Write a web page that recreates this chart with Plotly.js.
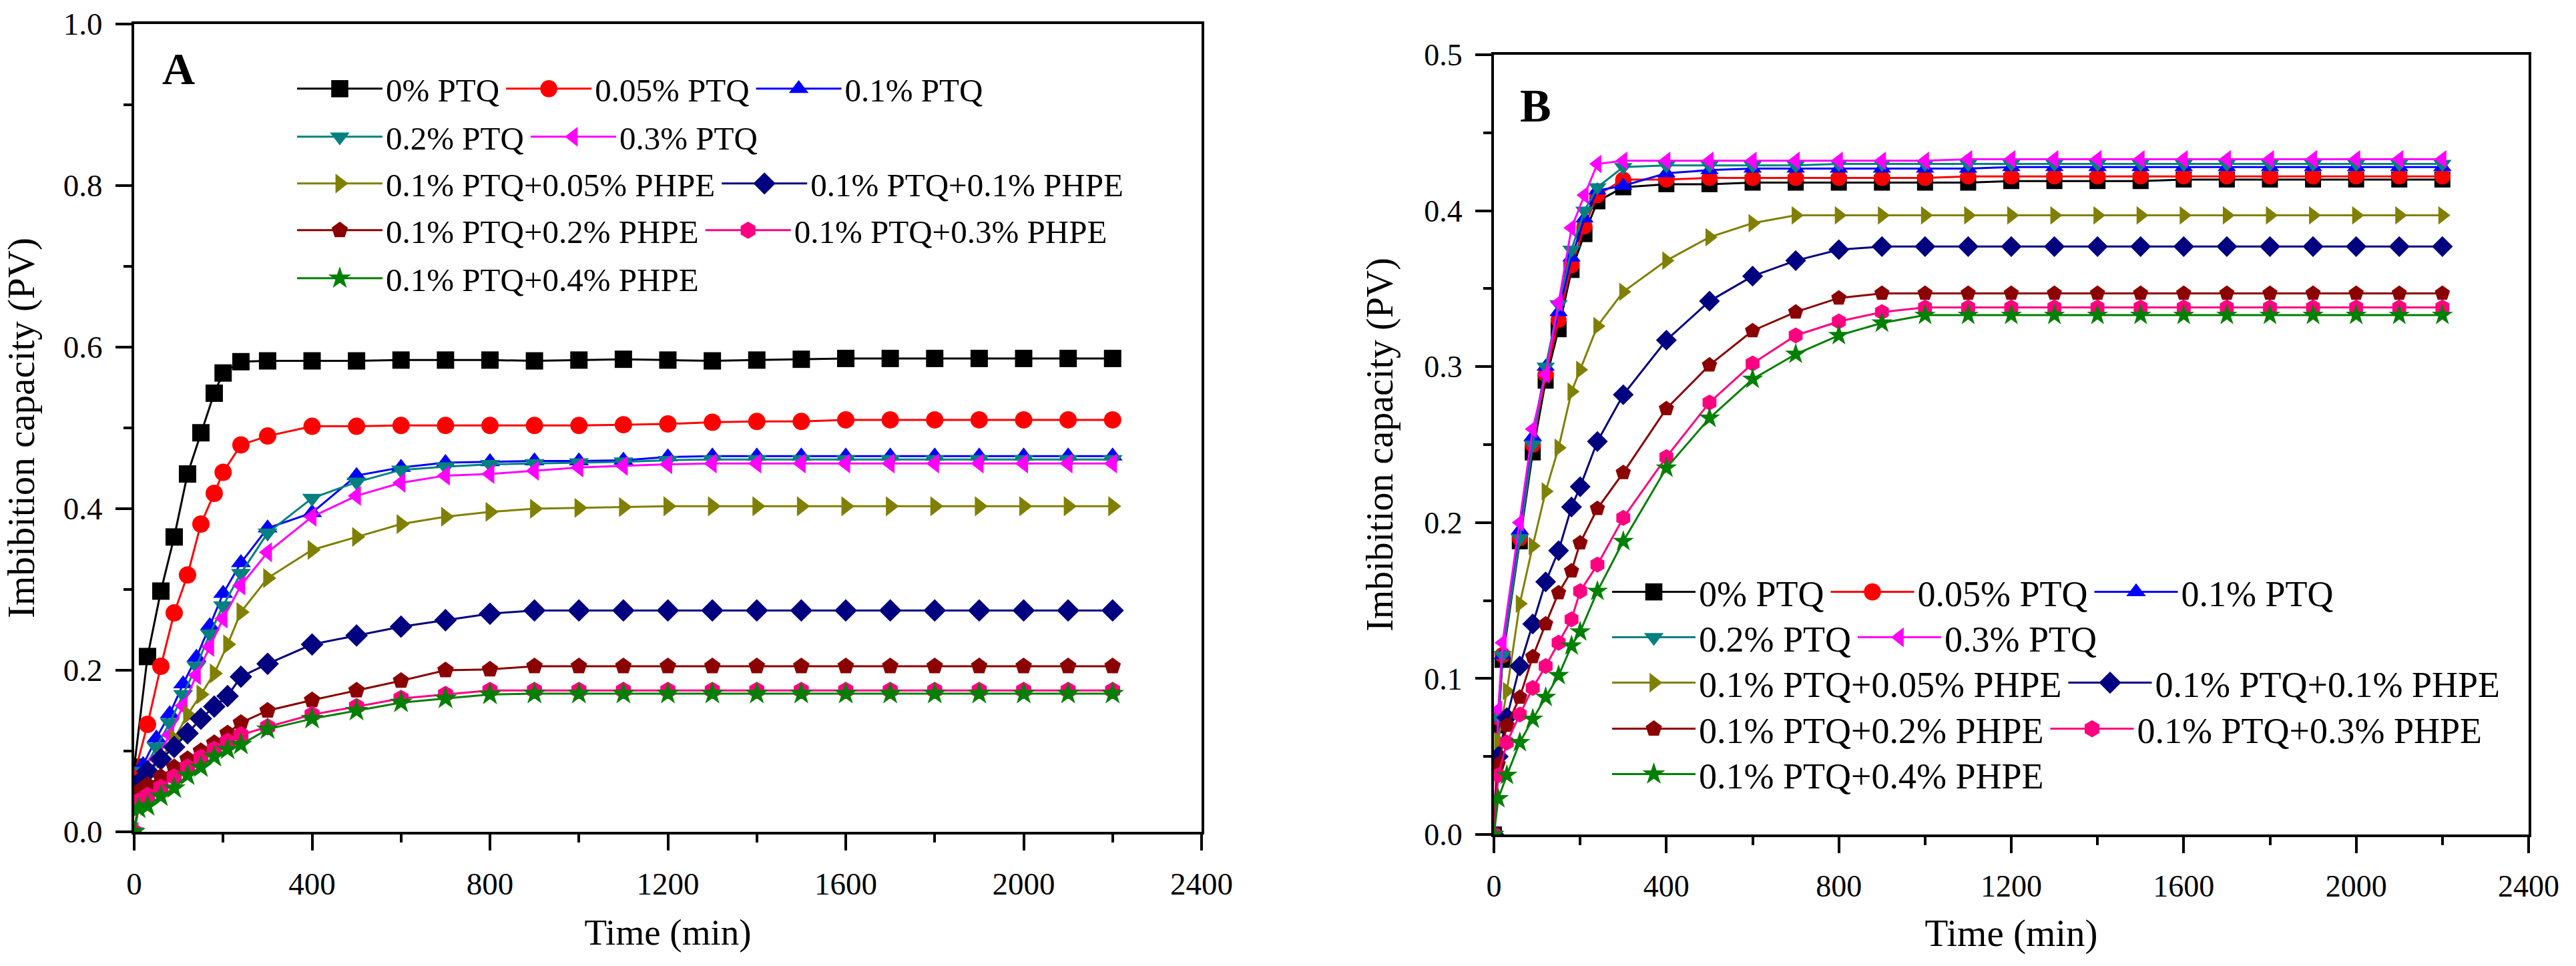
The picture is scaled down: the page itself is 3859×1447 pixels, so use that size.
<!DOCTYPE html>
<html>
<head>
<meta charset="utf-8">
<script src="https://cdn.plot.ly/plotly-3.0.1.min.js"></script>
<style>html,body{margin:0;padding:0;background:#fff;}#chart{width:3859px;height:1447px;}</style>
</head>
<body>
<div id="chart"></div>
<script>
// ---------- Series names ----------
const seriesNames = ['0% PTQ', '0.05% PTQ', '0.1% PTQ', '0.2% PTQ', '0.3% PTQ',
  '0.1% PTQ+0.05% PHPE', '0.1% PTQ+0.1% PHPE', '0.1% PTQ+0.2% PHPE',
  '0.1% PTQ+0.3% PHPE', '0.1% PTQ+0.4% PHPE'];

// ---------- Panel A times (min) ----------
const timeA_early = [0, 30, 60, 90, 120, 150, 180, 200, 240, 300, 400, 500, 600, 700, 800, 900, 1000, 1100, 1200, 1300, 1400, 1500, 1600, 1700, 1800, 1900, 2000, 2100, 2200];
const timeA_ptq = [0, 20, 50, 80, 110, 140, 170, 200, 240, 300, 400, 500, 600, 700, 800, 900, 1000, 1100, 1200, 1300, 1400, 1500, 1600, 1700, 1800, 1900, 2000, 2100, 2200];
const timeA_phpe = [0, 10, 30, 60, 90, 120, 150, 180, 210, 240, 300, 400, 500, 600, 700, 800, 900, 1000, 1100, 1200, 1300, 1400, 1500, 1600, 1700, 1800, 1900, 2000, 2100, 2200];

// ---------- Panel A values (PV) ----------
const A_ptq0 = [0.08, 0.217, 0.298, 0.365, 0.443, 0.494, 0.543, 0.568, 0.582, 0.583, 0.583, 0.583, 0.584, 0.584, 0.584, 0.583, 0.584, 0.585, 0.584, 0.583, 0.584, 0.585, 0.586, 0.586, 0.586, 0.586, 0.586, 0.586, 0.586];
const A_ptq005 = [0.07, 0.133, 0.205, 0.271, 0.318, 0.381, 0.419, 0.445, 0.479, 0.490, 0.502, 0.502, 0.503, 0.503, 0.503, 0.503, 0.503, 0.504, 0.505, 0.507, 0.508, 0.508, 0.510, 0.510, 0.510, 0.510, 0.510, 0.510, 0.510];
const A_ptq01 = [0.06, 0.083, 0.116, 0.146, 0.183, 0.216, 0.255, 0.295, 0.333, 0.376, 0.395, 0.441, 0.451, 0.457, 0.458, 0.459, 0.459, 0.460, 0.464, 0.465, 0.465, 0.465, 0.465, 0.465, 0.465, 0.465, 0.465, 0.465, 0.465];
const A_ptq02 = [0.0, 0.075, 0.105, 0.135, 0.170, 0.205, 0.245, 0.280, 0.320, 0.370, 0.413, 0.433, 0.448, 0.452, 0.455, 0.456, 0.457, 0.458, 0.460, 0.461, 0.461, 0.461, 0.461, 0.461, 0.461, 0.461, 0.461, 0.461, 0.461];
const A_ptq03 = [0.0, 0.060, 0.090, 0.120, 0.156, 0.194, 0.229, 0.264, 0.305, 0.346, 0.390, 0.416, 0.432, 0.441, 0.443, 0.447, 0.451, 0.453, 0.455, 0.456, 0.456, 0.456, 0.456, 0.456, 0.456, 0.456, 0.456, 0.456, 0.456];
const A_phpe005 = [0.03, 0.05, 0.07, 0.09, 0.115, 0.145, 0.170, 0.196, 0.232, 0.272, 0.314, 0.349, 0.365, 0.381, 0.390, 0.396, 0.400, 0.401, 0.402, 0.403, 0.403, 0.403, 0.403, 0.403, 0.403, 0.403, 0.403, 0.403, 0.403, 0.403];
const A_phpe01 = [0.05, 0.06, 0.075, 0.090, 0.105, 0.122, 0.140, 0.155, 0.168, 0.192, 0.208, 0.232, 0.243, 0.254, 0.262, 0.270, 0.274, 0.274, 0.274, 0.274, 0.274, 0.274, 0.274, 0.274, 0.274, 0.274, 0.274, 0.274, 0.274, 0.274];
const A_phpe02 = [0.045, 0.05, 0.058, 0.068, 0.080, 0.090, 0.100, 0.110, 0.122, 0.135, 0.150, 0.163, 0.175, 0.187, 0.200, 0.201, 0.205, 0.205, 0.205, 0.205, 0.205, 0.205, 0.205, 0.205, 0.205, 0.205, 0.205, 0.205, 0.205, 0.205];
const A_phpe03 = [0.0, 0.038, 0.045, 0.055, 0.068, 0.080, 0.092, 0.102, 0.112, 0.120, 0.130, 0.145, 0.155, 0.165, 0.170, 0.175, 0.175, 0.175, 0.175, 0.175, 0.175, 0.175, 0.175, 0.175, 0.175, 0.175, 0.175, 0.175, 0.175, 0.175];
const A_phpe04 = [0.0, 0.029, 0.032, 0.044, 0.054, 0.070, 0.080, 0.093, 0.102, 0.108, 0.127, 0.140, 0.150, 0.160, 0.165, 0.170, 0.171, 0.171, 0.171, 0.171, 0.171, 0.171, 0.171, 0.171, 0.171, 0.171, 0.171, 0.171, 0.171, 0.171];

// ---------- Panel B times (min) ----------
const timeB_ptq = [0, 10, 20, 60, 90, 120, 150, 180, 210, 240, 300, 400, 500, 600, 700, 800, 900, 1000, 1100, 1200, 1300, 1400, 1500, 1600, 1700, 1800, 1900, 2000, 2100, 2200];
const timeB_phpe = [0, 10, 30, 60, 90, 120, 150, 180, 200, 240, 300, 400, 500, 600, 700, 800, 900, 1000, 1100, 1200, 1300, 1400, 1500, 1600, 1700, 1800, 1900, 2000, 2100, 2200];

// ---------- Panel B values (PV) ----------
const B_ptq0 = [0.0, 0.070, 0.112, 0.188, 0.245, 0.291, 0.324, 0.362, 0.385, 0.406, 0.415, 0.417, 0.417, 0.418, 0.418, 0.418, 0.418, 0.418, 0.418, 0.419, 0.419, 0.419, 0.419, 0.420, 0.420, 0.420, 0.420, 0.420, 0.420, 0.420];
const B_ptq005 = [0.0, 0.075, 0.115, 0.190, 0.250, 0.295, 0.330, 0.365, 0.390, 0.410, 0.420, 0.420, 0.421, 0.421, 0.421, 0.421, 0.421, 0.421, 0.422, 0.422, 0.422, 0.422, 0.422, 0.422, 0.422, 0.422, 0.422, 0.422, 0.422, 0.422];
const B_ptq01 = [0.0, 0.075, 0.115, 0.195, 0.255, 0.300, 0.335, 0.370, 0.395, 0.413, 0.416, 0.424, 0.426, 0.427, 0.427, 0.427, 0.427, 0.427, 0.427, 0.428, 0.428, 0.428, 0.428, 0.428, 0.428, 0.428, 0.428, 0.428, 0.428, 0.428];
const B_ptq02 = [0.0, 0.075, 0.115, 0.190, 0.250, 0.300, 0.340, 0.375, 0.400, 0.415, 0.428, 0.429, 0.429, 0.429, 0.429, 0.430, 0.430, 0.430, 0.430, 0.430, 0.430, 0.430, 0.430, 0.430, 0.430, 0.430, 0.430, 0.430, 0.430, 0.430];
const B_ptq03 = [0.0, 0.080, 0.123, 0.200, 0.260, 0.295, 0.341, 0.389, 0.410, 0.430, 0.432, 0.432, 0.432, 0.432, 0.432, 0.432, 0.432, 0.432, 0.433, 0.433, 0.433, 0.433, 0.433, 0.433, 0.433, 0.433, 0.433, 0.433, 0.433, 0.433];
const B_phpe005 = [0.0, 0.060, 0.092, 0.148, 0.185, 0.220, 0.248, 0.284, 0.298, 0.326, 0.348, 0.368, 0.383, 0.392, 0.397, 0.397, 0.397, 0.397, 0.397, 0.397, 0.397, 0.397, 0.397, 0.397, 0.397, 0.397, 0.397, 0.397, 0.397, 0.397];
const B_phpe01 = [0.0, 0.050, 0.075, 0.108, 0.135, 0.162, 0.182, 0.210, 0.223, 0.252, 0.282, 0.317, 0.342, 0.358, 0.368, 0.375, 0.377, 0.377, 0.377, 0.377, 0.377, 0.377, 0.377, 0.377, 0.377, 0.377, 0.377, 0.377, 0.377, 0.377];
const B_phpe02 = [0.0, 0.045, 0.070, 0.088, 0.114, 0.135, 0.155, 0.169, 0.187, 0.209, 0.232, 0.273, 0.301, 0.323, 0.335, 0.344, 0.347, 0.347, 0.347, 0.347, 0.347, 0.347, 0.347, 0.347, 0.347, 0.347, 0.347, 0.347, 0.347, 0.347];
const B_phpe03 = [0.0, 0.038, 0.059, 0.077, 0.094, 0.108, 0.123, 0.138, 0.156, 0.173, 0.203, 0.242, 0.277, 0.302, 0.320, 0.329, 0.335, 0.338, 0.338, 0.338, 0.338, 0.338, 0.338, 0.338, 0.338, 0.338, 0.338, 0.338, 0.338, 0.338];
const B_phpe04 = [0.0, 0.023, 0.038, 0.059, 0.074, 0.088, 0.102, 0.121, 0.130, 0.156, 0.188, 0.235, 0.267, 0.292, 0.308, 0.320, 0.328, 0.333, 0.333, 0.333, 0.333, 0.333, 0.333, 0.333, 0.333, 0.333, 0.333, 0.333, 0.333, 0.333];

// ---------- Styles ----------
const colors = ['#000000', '#FF0000', '#0000FF', '#008080', '#FF00FF', '#808000', '#000080', '#8B0000', '#FF0080', '#008000'];
const symbols = ['square', 'circle', 'triangle-up', 'triangle-down', 'triangle-left', 'triangle-right', 'diamond', 'pentagon', 'hexagon', 'star'];
const legendRowA = ['legend', 'legend', 'legend', 'legend2', 'legend2', 'legend3', 'legend3', 'legend4', 'legend4', 'legend5'];
const legendRowB = ['legend6', 'legend6', 'legend6', 'legend7', 'legend7', 'legend8', 'legend8', 'legend9', 'legend9', 'legend10'];

const timesA = [timeA_early, timeA_early, timeA_ptq, timeA_ptq, timeA_ptq, timeA_phpe, timeA_phpe, timeA_phpe, timeA_phpe, timeA_phpe];
const valsA = [A_ptq0, A_ptq005, A_ptq01, A_ptq02, A_ptq03, A_phpe005, A_phpe01, A_phpe02, A_phpe03, A_phpe04];
const timesB = [timeB_ptq, timeB_ptq, timeB_ptq, timeB_ptq, timeB_ptq, timeB_phpe, timeB_phpe, timeB_phpe, timeB_phpe, timeB_phpe];
const valsB = [B_ptq0, B_ptq005, B_ptq01, B_ptq02, B_ptq03, B_phpe005, B_phpe01, B_phpe02, B_phpe03, B_phpe04];

const FONT = 'Liberation Serif, Times New Roman, serif';
const W = 3859, H = 1447;

const traces = [];
seriesNames.forEach((name, i) => {
  traces.push({
    type: 'scatter', mode: 'lines+markers', name: name,
    x: timesA[i], y: valsA[i], xaxis: 'x', yaxis: 'y',
    legend: legendRowA[i],
    line: {color: colors[i], width: 3},
    marker: {symbol: symbols[i], color: colors[i], size: 26}
  });
});
seriesNames.forEach((name, i) => {
  traces.push({
    type: 'scatter', mode: 'lines+markers', name: name,
    x: timesB[i], y: valsB[i], xaxis: 'x2', yaxis: 'y2',
    legend: legendRowB[i],
    line: {color: colors[i], width: 3},
    marker: {symbol: symbols[i], color: colors[i], size: 24}
  });
});

function px2x(p) { return p / W; }
function px2y(p) { return 1 - p / H; }

function axisCommon(extra) {
  return Object.assign({
    showline: true, linecolor: '#000', linewidth: 4, mirror: true,
    ticks: 'outside', ticklen: 24, tickwidth: 4, tickcolor: '#000',
    showgrid: false, zeroline: false, automargin: false,
    ticklabelstandoff: 10,
  }, extra);
}

function legendRow(xp, yp, size, iw) {
  return {
    orientation: 'h', x: px2x(xp), y: px2y(yp), xanchor: 'left', yanchor: 'middle',
    font: {family: FONT, size: size, color: '#000'}, itemwidth: iw,
    bgcolor: 'rgba(0,0,0,0)', borderwidth: 0, traceorder: 'normal'
  };
}

const layout = {
  width: W, height: H,
  margin: {l: 0, r: 0, t: 0, b: 0},
  paper_bgcolor: '#fff', plot_bgcolor: '#fff',
  font: {family: FONT, color: '#000'},
  showlegend: true,
  xaxis: axisCommon({
    domain: [px2x(201), px2x(1800)], anchor: 'y', range: [0, 2400],
    tick0: 0, dtick: 400, tickfont: {size: 47, family: FONT},
    minor: {ticks: 'outside', ticklen: 12, tickwidth: 4, dtick: 200, tickcolor: '#000', showgrid: false},
    title: {text: 'Time (min)', font: {size: 55, family: FONT}, standoff: 28}
  }),
  yaxis: axisCommon({
    domain: [px2y(1246), px2y(36)], anchor: 'x', range: [0, 1],
    tick0: 0, dtick: 0.2, tickformat: '.1f', tickfont: {size: 47, family: FONT},
    minor: {ticks: 'outside', ticklen: 12, tickwidth: 4, dtick: 0.1, tickcolor: '#000', showgrid: false},
    title: {text: 'Imbibition capacity (PV)', font: {size: 57, family: FONT}, standoff: 35}
  }),
  xaxis2: axisCommon({
    domain: [px2x(2238), px2x(3788)], anchor: 'y2', range: [0, 2400],
    tick0: 0, dtick: 400, tickfont: {size: 46, family: FONT},
    minor: {ticks: 'outside', ticklen: 12, tickwidth: 4, dtick: 200, tickcolor: '#000', showgrid: false},
    title: {text: 'Time (min)', font: {size: 57, family: FONT}, standoff: 26}
  }),
  yaxis2: axisCommon({
    domain: [px2y(1250), px2y(82)], anchor: 'x2', range: [0, 0.5],
    tick0: 0, dtick: 0.1, tickformat: '.1f', tickfont: {size: 46, family: FONT},
    minor: {ticks: 'outside', ticklen: 12, tickwidth: 4, dtick: 0.05, tickcolor: '#000', showgrid: false},
    title: {text: 'Imbibition capacity (PV)', font: {size: 56, family: FONT}, standoff: 30}
  }),
  legend: legendRow(440, 133, 49, 128),
  legend2: legendRow(440, 205, 49, 128),
  legend3: legendRow(440, 275, 49, 128),
  legend4: legendRow(440, 345, 49, 128),
  legend5: legendRow(440, 417, 49, 128),
  legend6: legendRow(2410, 887, 54, 125),
  legend7: legendRow(2410, 955, 54, 125),
  legend8: legendRow(2410, 1023, 54, 125),
  legend9: legendRow(2410, 1092, 54, 125),
  legend10: legendRow(2410, 1160, 54, 125),
  annotations: [
    {text: '<b>A</b>', xref: 'paper', yref: 'paper', x: px2x(267), y: px2y(103),
     xanchor: 'center', yanchor: 'middle', showarrow: false, font: {family: FONT, size: 68, color: '#000'}},
    {text: '<b>B</b>', xref: 'paper', yref: 'paper', x: px2x(2300), y: px2y(158),
     xanchor: 'center', yanchor: 'middle', showarrow: false, font: {family: FONT, size: 70, color: '#000'}}
  ]
};

Plotly.newPlot('chart', traces, layout, {displayModeBar: false, staticPlot: true}).then(gd => {
  // legend symbols are capped at 16px by Plotly; enlarge them to match the reference
  gd.querySelectorAll('.legendpoints path.scatterpts').forEach(p => {
    const t = p.getAttribute('transform') || '';
    p.setAttribute('transform', t + ' scale(1.6)');
  });
});
</script>
</body>
</html>
